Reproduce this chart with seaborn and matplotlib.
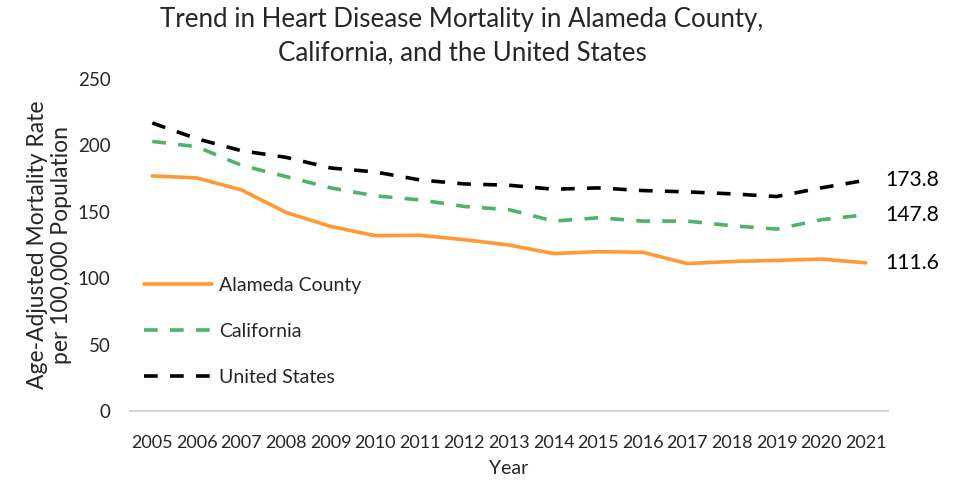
import numpy as np
import pandas as pd
import seaborn as sns
import matplotlib.pyplot as plt

years = list(range(2005, 2022))
alameda = [177.0, 175.5, 166.5, 149.5, 139.0, 132.0, 132.3, 129.0, 125.0, 118.5, 120.0, 119.5, 111.0, 112.6, 113.4, 114.4, 111.6]
california = [203.0, 199.0, 185.0, 176.5, 168.0, 162.0, 159.0, 154.0, 151.6, 143.0, 145.5, 143.0, 143.0, 139.5, 137.0, 144.0, 147.8]
usa = [216.9, 205.0, 196.0, 191.0, 183.0, 180.0, 174.0, 171.0, 170.0, 167.0, 168.0, 166.0, 165.0, 163.5, 161.5, 168.0, 173.8]
series_names = ['Alameda County', 'California', 'United States']
colors = ['#ff9933', '#4db36b', '#000000']

df = pd.DataFrame({'Year': years * 3,
                   'Rate': alameda + california + usa,
                   'Area': [n for n in series_names for _ in years]})
df['pos'] = df['Year'] - 2005

sns.set_theme(style='white')
plt.rcParams['font.family'] = ['Lato', 'DejaVu Sans']

fig, ax = plt.subplots(figsize=(9.54, 4.8), dpi=100)
fig.subplots_adjust(left=130/954, right=888/954, top=1-79/480, bottom=1-411/480)

sns.lineplot(data=df, x='pos', y='Rate', hue='Area', style='Area',
             palette=colors, dashes=[(None, None), (3.8, 3.4), (3.8, 3.4)],
             linewidth=2.6, ax=ax)

# end-of-line value labels
for vals in [usa, california, alameda]:
    ax.text(16.45, vals[-1], f'{vals[-1]:.1f}', fontsize=15.2, va='center', ha='left', color='black')

ax.set_xlim(-0.5, 16.5)
ax.set_ylim(0, 250)
ax.set_xticks(range(len(years)))
ax.set_xticklabels([str(y) for y in years], fontsize=13)
ax.set_yticks(range(0, 251, 50))
ax.set_yticklabels([str(v) for v in range(0, 251, 50)], fontsize=13.5)
ax.tick_params(axis='x', length=0, pad=17)
ax.tick_params(axis='y', length=0, pad=14)
for s in ['top', 'right', 'left']:
    ax.spines[s].set_visible(False)
ax.spines['bottom'].set_color('#d0d0d0')
ax.set_xlabel('Year', fontsize=14, labelpad=7)
ax.set_ylabel('Age-Adjusted Mortality Rate\nper 100,000 Population', fontsize=16.5, labelpad=4, linespacing=1.2)

leg = ax.legend(loc='upper left', bbox_to_anchor=(0.0, 0.445), frameon=False, fontsize=14,
                handlelength=3.5, labelspacing=1.5, handletextpad=0.4, borderaxespad=0.3)
for h in leg.get_lines():
    h.set_linewidth(2.6)

fig.text(462/954, 1-36/480, 'Trend in Heart Disease Mortality in Alameda County,\nCalifornia, and the United States',
         ha='center', va='center', fontsize=18.6, linespacing=1.4)

fig.savefig('out.png', dpi=100)
